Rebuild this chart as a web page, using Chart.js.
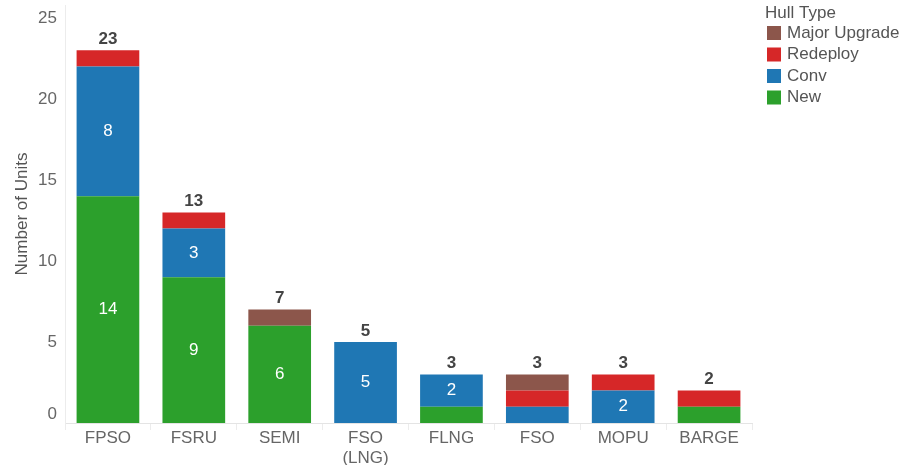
<!DOCTYPE html>
<html>
<head>
<meta charset="utf-8">
<script src="https://cdn.jsdelivr.net/npm/chart.js@4.4.0/dist/chart.umd.min.js"></script>
<style>
  html, body { margin: 0; padding: 0; background: #fff; }
  #wrap { width: 905px; height: 465px; position: relative; }
</style>
</head>
<body>
<div id="wrap"><canvas id="myChart" width="905" height="465"></canvas></div>
<script>
// categories and series
var categories = ['FPSO', 'FSRU', 'SEMI', ['FSO', '(LNG)'], 'FLNG', 'FSO', 'MOPU', 'BARGE'];
var newUnits      = [14, 9, 6, 0, 1, 0, 0, 1];
var convUnits     = [8, 3, 0, 5, 2, 1, 2, 0];
var redeployUnits = [1, 1, 0, 0, 0, 1, 1, 1];
var upgradeUnits  = [0, 0, 1, 0, 0, 1, 0, 0];
var yTicks = [0, 5, 10, 15, 20, 25];

var FONT = "'Liberation Sans', Arial, sans-serif";

// white numbers inside segments, bold totals on top, legend at the right
var labelPlugin = {
  id: 'labels',
  afterDatasetsDraw: function (chart) {
    var ctx = chart.ctx;
    ctx.save();
    ctx.textAlign = 'center';
    ctx.textBaseline = 'middle';
    chart.data.datasets.forEach(function (ds, di) {
      var meta = chart.getDatasetMeta(di);
      meta.data.forEach(function (bar, i) {
        var v = ds.data[i];
        if (v >= 2) {
          ctx.fillStyle = '#ffffff';
          ctx.font = '17px ' + FONT;
          ctx.fillText(String(v), bar.x, (bar.y + bar.base) / 2);
        }
      });
    });
    var y = chart.scales.y;
    var x = chart.scales.x;
    categories.forEach(function (c, i) {
      var total = 0;
      chart.data.datasets.forEach(function (ds) { total += ds.data[i]; });
      ctx.fillStyle = '#444444';
      ctx.font = 'bold 17px ' + FONT;
      ctx.fillText(String(total), x.getPixelForValue(i), y.getPixelForValue(total) - 11);
    });

    // the zero tick sits a bit above the baseline, like in the original
    ctx.textAlign = 'right';
    ctx.fillStyle = '#666666';
    ctx.font = '17px ' + FONT;
    ctx.fillText(String(yTicks[0]), y.right - 8, y.getPixelForValue(yTicks[0]) - 9);

    // legend
    ctx.textAlign = 'left';
    ctx.fillStyle = '#555555';
    ctx.fillText('Hull Type', 765, 13);
    var order = chart.data.datasets.slice().reverse();
    order.forEach(function (ds, k) {
      var cy = 33 + k * 21.5;
      ctx.fillStyle = ds.backgroundColor;
      ctx.fillRect(767, cy - 7, 14, 14);
      ctx.fillStyle = '#555555';
      ctx.fillText(ds.label, 787, cy);
    });
    ctx.restore();
  }
};

var ctx = document.getElementById('myChart').getContext('2d');
var chart = new Chart(ctx, {
  type: 'bar',
  data: {
    labels: categories,
    datasets: [{
      label: 'New',
      backgroundColor: '#2ca02c',
      data: newUnits
    }, {
      label: 'Conv',
      backgroundColor: '#1f77b4',
      data: convUnits
    }, {
      label: 'Redeploy',
      backgroundColor: '#d62728',
      data: redeployUnits
    }, {
      label: 'Major Upgrade',
      backgroundColor: '#8c564b',
      data: upgradeUnits
    }]
  },
  options: {
    responsive: false,
    animation: false,
    categoryPercentage: 0.73,
    barPercentage: 1,
    layout: { padding: { top: 5, right: 153, left: 0, bottom: 0 } },
    plugins: {
      legend: { display: false },
      tooltip: { enabled: false }
    },
    scales: {
      x: {
        stacked: true,
        afterFit: function (s) {
          s.height = 42;
          s.paddingLeft = 0;
          s.paddingRight = 0;
        },
        grid: {
          offset: true,
          drawOnChartArea: false,
          drawTicks: true,
          tickLength: 7,
          color: '#ececec'
        },
        border: { display: true, color: '#e4e4e4' },
        ticks: {
          color: '#666666',
          font: { family: FONT, size: 17 },
          padding: -2,
          maxRotation: 0,
          autoSkip: false
        }
      },
      y: {
        stacked: true,
        min: 0,
        max: 25.8,
        afterFit: function (s) {
          s.width = 65;
          s.paddingTop = 0;
          s.paddingBottom = 0;
        },
        afterBuildTicks: function (s) {
          s.ticks = yTicks.map(function (v) { return { value: v }; });
        },
        grid: { display: false, drawTicks: false, tickLength: 0 },
        border: { display: true, color: '#ececec' },
        title: {
          display: true,
          text: 'Number of Units',
          color: '#555555',
          font: { family: FONT, size: 17 },
          padding: { top: 12, bottom: 0 }
        },
        ticks: {
          color: '#666666',
          font: { family: FONT, size: 17 },
          padding: 8,
          callback: function (v) { return v === yTicks[0] ? '' : String(v); }
        }
      }
    }
  },
  plugins: [labelPlugin]
});
</script>
</body>
</html>
